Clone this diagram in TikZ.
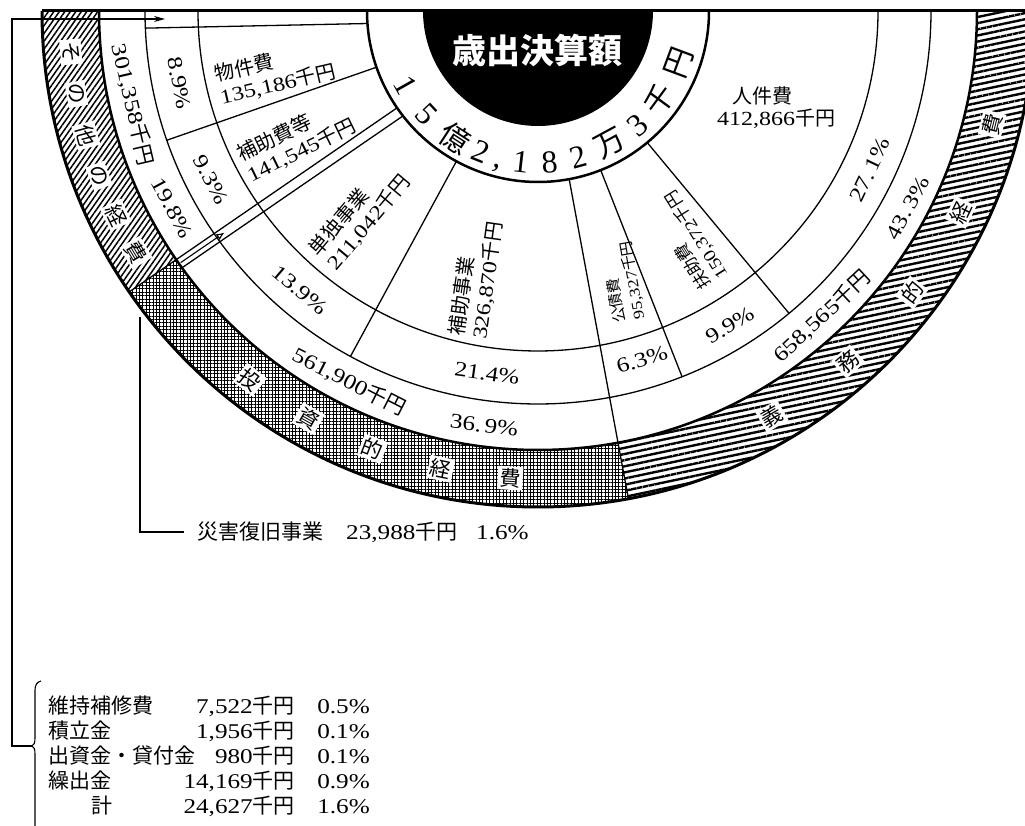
\documentclass[tikz,border=0pt]{standalone}
\usepackage{fontspec}
\setmainfont{Liberation Serif}[FakeStretch=1.2]
\newfontfamily\serifn{Liberation Serif}
\newfontfamily\cjk{Noto Sans CJK JP}
\newcommand\J[1]{{\cjk #1}}
\usetikzlibrary{patterns.meta,arrows.meta,calc}
\begin{document}
\begin{tikzpicture}[x=1pt,y=1pt,
  thinring/.style={line width=1.3pt},
  boldring/.style={line width=2.5pt},
  pctlab/.style={font=\fontsize{21}{24}\selectfont, inner sep=0pt},
  seclab/.style={font=\fontsize{20}{23}\selectfont, align=left, inner sep=0pt},
  bandch/.style={font=\cjk\fontsize{21}{21}\selectfont, fill=white, inner sep=2pt},
  sumdig/.style={font=\serifn\fontsize{32}{32}\selectfont, inner sep=0pt},
  sumkan/.style={font=\cjk\fontsize{30}{30}\selectfont, inner sep=0pt},
  listtxt/.style={font=\fontsize{21}{21}\selectfont, inner sep=0pt},
  leader/.style={line width=1.1pt},
]
\useasboundingbox (0,0) rectangle (1025,826);
\clip (0,0) rectangle (1025,826);
\begin{scope}[shift={(538,815)}]
% bands
\path[pattern={Lines[angle=55,distance=4.5pt,line width=1.5pt]}] (180:439) arc[start angle=180,end angle=214.5,radius=439] -- (214.5:496) arc[start angle=214.5,end angle=180,radius=496] -- cycle;
\path[pattern={Hatch[angle=0,distance=3.4pt,line width=0.9pt]}] (214.5:439) arc[start angle=214.5,end angle=280.5,radius=439] -- (280.5:496) arc[start angle=280.5,end angle=214.5,radius=496] -- cycle;
\path[pattern={Lines[angle=12,distance=6pt,line width=2.4pt]}] (280.5:439) arc[start angle=280.5,end angle=360,radius=439] -- (360:496) arc[start angle=360,end angle=280.5,radius=496] -- cycle;
% centre
\fill (180:115) arc[start angle=180,end angle=360,radius=115] -- cycle;
% rings
\draw[boldring] (180:171) arc[start angle=180,end angle=360,radius=171];
\draw[thinring] (180:340) arc[start angle=180,end angle=360,radius=340];
\draw[thinring] (180:393) arc[start angle=180,end angle=360,radius=393];
\draw[boldring] (180:439) arc[start angle=180,end angle=360,radius=439];
\draw[line width=3pt] (180:496) arc[start angle=180,end angle=360,radius=496];
\draw[line width=3pt] (180:496) -- (0:530);
% dividers
\draw[thinring] (182.5:393) -- (184.2:171);
\draw[thinring] (199.2:171) -- (199.2:393);
\draw[thinring] (214.5:171) -- (214.5:496);
\draw[thinring] ($(214.5:171)+(304.5:10)$) -- ($(214.5:439)+(304.5:10)$);
\draw[thinring] (241.5:171) -- (241.5:393);
\draw[thinring] (280.5:171) -- (280.5:496);
\draw[thinring] (291.5:171) -- (291.5:393);
\draw[thinring] (309.7:171) -- (309.7:393);
% arrow in strip
\coordinate (sgTail) at ($(214.5:437)+(304.5:5)$);
\coordinate (sgTip) at ($(214.5:384)+(304.5:5)$);
\draw[leader,-{Latex[open,length=8pt,width=7pt]}] (sgTail) -- (sgTip);
% title
\node[font=\cjk\bfseries\fontsize{34}{34}\selectfont, text=white] (title) at (-1,-39) {歳出決算額};
% total
\node[sumdig, rotate=299.4] (s1) at (209.4:152) {1};
\node[sumdig, rotate=313] (s2) at (223:152) {5};
\node[sumkan, rotate=327] (s3) at (237:152) {億};
\node[sumdig, rotate=338] (s4) at (248:152) {2};
\node[sumdig, rotate=345] (s5) at (255:163) {,};
\node[sumdig, rotate=353.5] (s6) at (263.5:152) {1};
\node[sumdig, rotate=4.4] (s7) at (274.4:152) {8};
\node[sumdig, rotate=15.4] (s8) at (285.4:152) {2};
\node[sumkan, rotate=28.4] (s9) at (298.4:150) {万};
\node[sumdig, rotate=41] (s10) at (311:152) {3};
\node[sumkan, rotate=53.7] (s11) at (323.7:150) {千};
\node[sumkan, rotate=69.6] (s12) at (339.6:150) {円};
% percentages
\node[pctlab, rotate=281.4] (p1) at (191.4:366) {8.9\%};
\node[pctlab, rotate=297.3] (p2) at (207.3:368) {9.3\%};
\node[pctlab, rotate=319.5] (p3) at (229.5:367) {13.9\%};
\node[pctlab, rotate=352] (p4) at (262:366) {21.4\%};
\node[pctlab, rotate=16.6] (p5) at (286.6:364) {6.3\%};
\node[pctlab, rotate=31.4] (p6) at (301.4:368) {9.9\%};
\node[pctlab, rotate=64.4] (p7) at (334.4:368) {27.\,1\%};
\node[pctlab, rotate=283] (o1) at (193:416) {301,358\J{千円}};
\node[pctlab, rotate=298.3] (o2) at (208.3:416) {19.8\%};
\node[pctlab, rotate=333] (o3) at (243:416) {561,900\J{千円}};
\node[pctlab, rotate=352.6] (o4) at (262.6:418) {36.\,9\%};
\node[pctlab, rotate=42.9] (o5) at (312.9:417) {658,565\J{千円}};
\node[pctlab, rotate=62] (o6) at (332:419) {43.\,3\%};
% sector labels
\node[seclab, rotate=13] (bk) at (193.3:270) {\J{物件費}\\135,186\J{千円}};
\node[seclab, rotate=26] (hh) at (208.1:274) {\J{補助費等}\\141,545\J{千円}};
\node[seclab, rotate=50] (td) at (228.9:271) {\J{単独事業}\\211,042\J{千円}};
\node[seclab, rotate=82] (hj) at (257:275) {\J{補助事業}\\326,870\J{千円}};
\node[seclab, font=\fontsize{15}{19}\selectfont, rotate=100] (ks) at (287.4:284) {\J{公債費}\\95,327\J{千円}};
\node[seclab, font=\fontsize{17}{20}\selectfont, rotate=122] (fj) at (303.2:274) {\J{扶助費}\\150,372\J{千円}};
\node[seclab] (jk1) at (224,-85) {\J{人件費}};
\node[seclab] (jk2) at (238,-108) {412,866\J{千円}};
% band captions
\foreach \a/\c [count=\i] in {185/そ,190.2/の,195.4/他,200.6/の,205.8/経,211/費}
  {\node[bandch, rotate=\a+90] (so\i) at (\a:469) {\c};}
\foreach \a/\c [count=\i] in {232/投,240.6/資,249.3/的,258/経,266.6/費}
  {\node[bandch, rotate=\a+90] (to\i) at (\a:468) {\c};}
\foreach \a/\c [count=\i] in {300/義,311.5/務,323/的,334.5/経,346/費}
  {\node[bandch, rotate=\a+90] (gi\i) at (\a:468) {\c};}
\end{scope}
% top arrow and bracket
\coordinate (tipTop) at (165,807);
\coordinate (braceJ) at (32,80);
\draw[leader,-{Stealth[length=11pt,width=6pt]}] (braceJ) -- (12,80) |- (tipTop);
\draw[line width=1.1pt] (41,145) .. controls (37,144) and (35,141) .. (35,136) -- (35,88) .. controls (35,83) and (34,81) .. (32,80) .. controls (34,79) and (35,77) .. (35,72) -- (35,-5);
% list
\node[listtxt, anchor=base west] (n1) at (48,112) {\J{維持補修費}};
\node[listtxt, anchor=base west] (n2) at (48,87) {\J{積立金}};
\node[listtxt, anchor=base west] (n3) at (48,62) {\J{出資金・貸付金}};
\node[listtxt, anchor=base west] (n4) at (48,37) {\J{繰出金}};
\node[listtxt, anchor=base] (n5) at (102,12) {\J{計}};
\node[listtxt, anchor=base east] (a1) at (295,112) {7,522\J{千円}};
\node[listtxt, anchor=base east] (a2) at (295,87) {1,956\J{千円}};
\node[listtxt, anchor=base east] (a3) at (295,62) {980\J{千円}};
\node[listtxt, anchor=base east] (a4) at (295,37) {14,169\J{千円}};
\node[listtxt, anchor=base east] (a5) at (295,12) {24,627\J{千円}};
\node[listtxt, anchor=base east] (r1) at (370,112) {0.5\%};
\node[listtxt, anchor=base east] (r2) at (370,87) {0.1\%};
\node[listtxt, anchor=base east] (r3) at (370,62) {0.1\%};
\node[listtxt, anchor=base east] (r4) at (370,37) {0.9\%};
\node[listtxt, anchor=base east] (r5) at (370,12) {1.6\%};
% disaster leader
\node[listtxt, anchor=base west] (sg1) at (197,286) {\J{災害復旧事業}};
\node[listtxt, anchor=base west] (sg2) at (346,286) {23,988\J{千円}};
\node[listtxt, anchor=base west] (sg3) at (476,286) {1.6\%};
\coordinate (sgTop) at (140,509);
\draw[leader] ([xshift=-13pt]sg1.west) -| (sgTop);
\end{tikzpicture}
\end{document}
